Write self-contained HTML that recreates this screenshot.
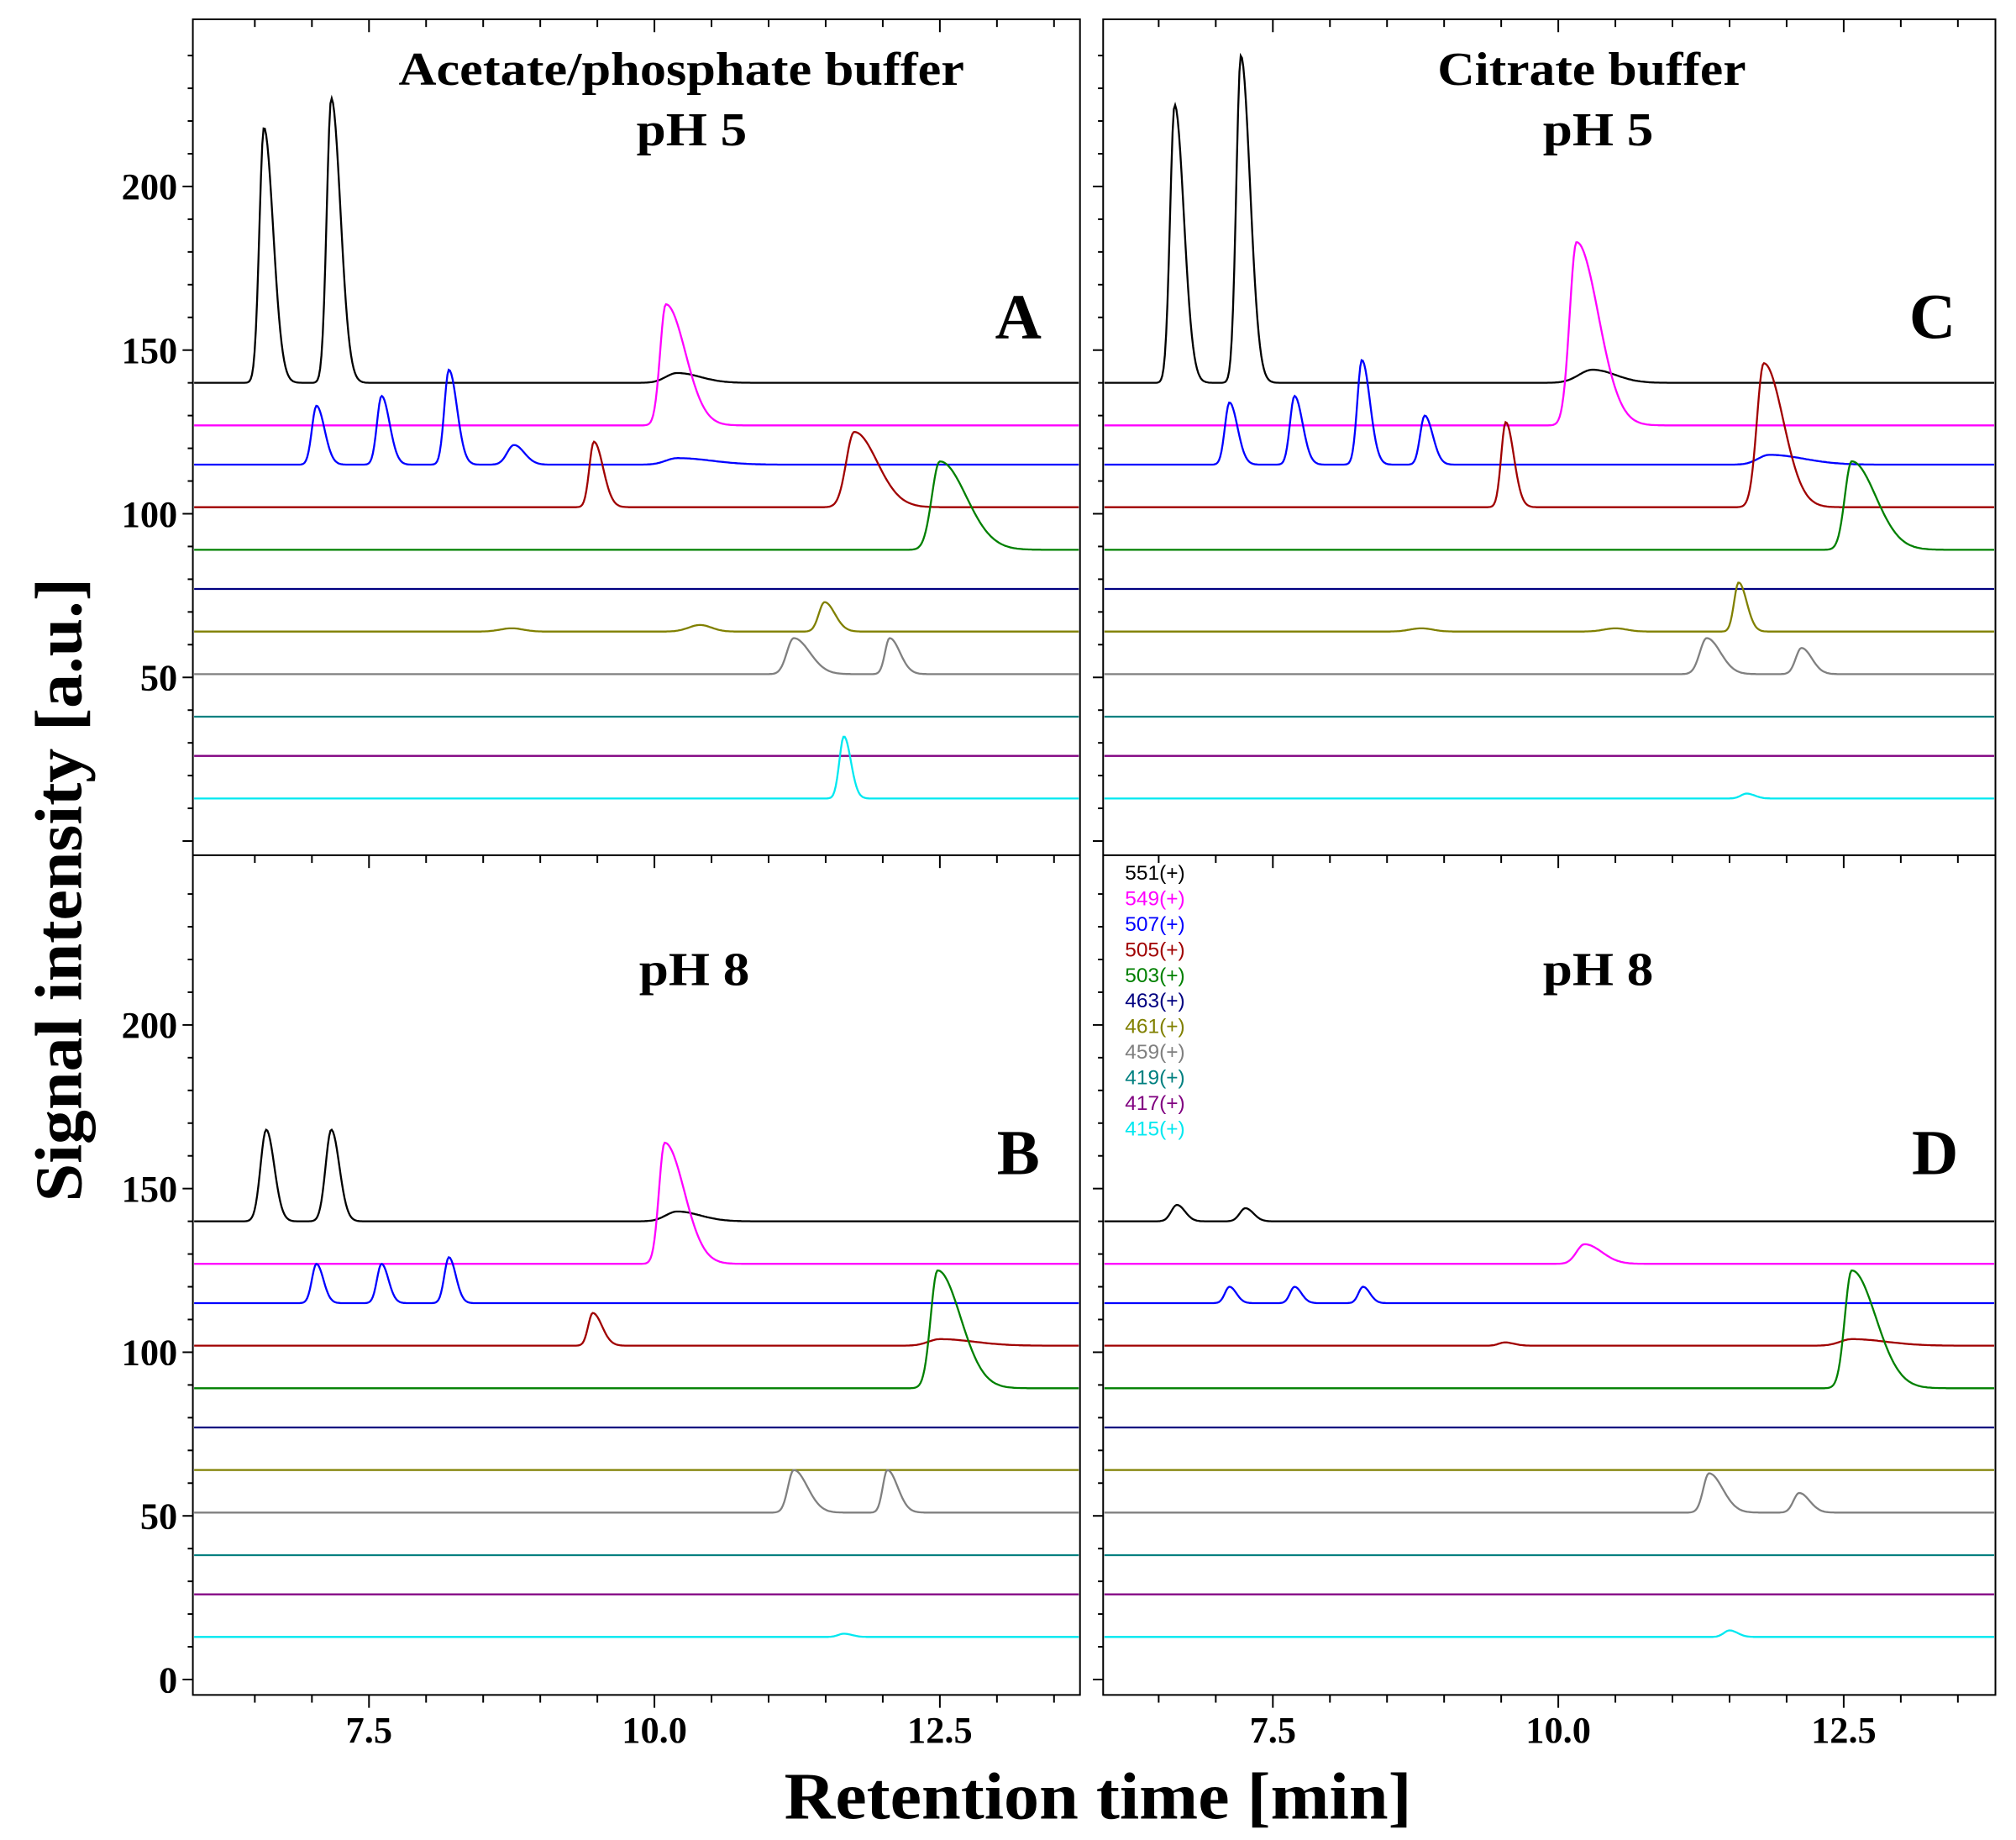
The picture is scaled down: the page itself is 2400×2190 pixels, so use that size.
<!DOCTYPE html>
<html><head><meta charset="utf-8"><style>
html,body{margin:0;padding:0;background:#fff}
svg{display:block}
</style></head><body>
<svg id="s" xmlns="http://www.w3.org/2000/svg" width="2400" height="2190" viewBox="0 0 1568 1430.8" preserveAspectRatio="none">
<rect x="0" y="0" width="1568" height="1431" fill="#fff"/>
<g id="traces"></g>
<g id="axes" stroke="#000" fill="none" stroke-width="1.3"></g>
<g font-family="Liberation Serif, serif" font-weight="bold" fill="#000">
<text x="530" y="66" font-size="37" text-anchor="middle" textLength="440" lengthAdjust="spacingAndGlyphs">Acetate/phosphate buffer</text>
<text x="538" y="113" font-size="37" text-anchor="middle" textLength="86" lengthAdjust="spacingAndGlyphs">pH 5</text>
<text x="1238" y="66" font-size="37" text-anchor="middle" textLength="240" lengthAdjust="spacingAndGlyphs">Citrate buffer</text>
<text x="1243" y="113" font-size="37" text-anchor="middle" textLength="86" lengthAdjust="spacingAndGlyphs">pH 5</text>
<text x="540" y="766" font-size="37" text-anchor="middle" textLength="86" lengthAdjust="spacingAndGlyphs">pH 8</text>
<text x="1243" y="766" font-size="37" text-anchor="middle" textLength="86" lengthAdjust="spacingAndGlyphs">pH 8</text>
<text x="792" y="263" font-size="50" text-anchor="middle">A</text>
<text x="1503" y="263" font-size="50" text-anchor="middle">C</text>
<text x="792" y="913" font-size="50" text-anchor="middle">B</text>
<text x="1505" y="913" font-size="50" text-anchor="middle">D</text>
<text x="854" y="1414" font-size="52" text-anchor="middle" textLength="488" lengthAdjust="spacingAndGlyphs">Retention time  [min]</text>
<text transform="translate(63,692) rotate(-90)" font-size="52" text-anchor="middle" textLength="485" lengthAdjust="spacingAndGlyphs">Signal intensity [a.u.]</text>
<g id="labels" font-size="29"></g>
</g>
<g font-family="Liberation Sans, sans-serif" font-size="16" id="legend"></g>
</svg>
<script>
var NS="http://www.w3.org/2000/svg";
function el(p,t,a,txt){var e=document.createElementNS(NS,t);for(var k in a)e.setAttribute(k,a[k]);if(txt!=null)e.textContent=txt;p.appendChild(e);return e;}
var cols=["#000000","#ff00ff","#0000ff","#a00000","#008000","#000080","#808000","#808080","#008080","#800080","#00e8f0"];
var names=["551(+)","549(+)","507(+)","505(+)","503(+)","463(+)","461(+)","459(+)","419(+)","417(+)","415(+)"];
var bases=[140,127,115,102,89,77,64,51,38,26,13];
var panels=[
 {x:150,off:0,y0:654,p:[
  [[6.58,78,.04,.08],[7.17,87,.04,.08],[10.2,3,.1,.2]],
  [[10.10,37,.05,.17]],
  [[7.04,18,.04,.07],[7.61,21,.04,.07],[8.20,29,.04,.07],[8.77,6,.06,.09],[10.2,2,.1,.3]],
  [[9.47,20,.04,.08],[11.75,23,.07,.2]],
  [[12.50,27,.07,.23]],
  [],
  [[11.49,9,.05,.09],[10.4,2,.1,.1],[8.75,1,.1,.1]],
  [[11.22,11,.06,.14],[12.06,11,.04,.09]],
  [],[],
  [[11.66,19,.04,.06]]]},
 {x:150,off:0,y0:1306,p:[
  [[6.60,28,.05,.07],[7.17,28,.05,.07],[10.2,3,.1,.2]],
  [[10.09,37,.05,.17]],
  [[7.04,12,.04,.06],[7.61,12,.04,.06],[8.20,14,.04,.06]],
  [[9.46,10,.04,.08],[12.5,2,.1,.3]],
  [[12.48,36,.06,.2]],
  [],[],
  [[11.22,13,.05,.12],[12.04,13,.04,.09]],
  [],[],
  [[11.66,1,.05,.07]]]},
 {x:858,off:703,y0:654,p:[
  [[6.64,85,.04,.08],[7.22,100,.04,.08],[10.3,4,.12,.2]],
  [[10.16,56,.06,.19]],
  [[7.12,19,.04,.07],[7.69,21,.04,.07],[8.28,32,.04,.07],[8.83,15,.04,.07],[11.85,3,.1,.3]],
  [[9.54,26,.04,.07],[11.80,44,.06,.17]],
  [[12.57,27,.06,.21]],
  [],
  [[11.58,15,.04,.07],[10.5,1,.1,.1],[8.8,1,.1,.1]],
  [[11.30,11,.06,.12],[12.13,8,.05,.09]],
  [],[],
  [[11.65,1.5,.05,.07]]]},
 {x:858,off:703,y0:1306,p:[
  [[6.66,5,.05,.07],[7.26,4,.05,.07]],
  [[10.23,6,.07,.15]],
  [[7.12,5,.04,.06],[7.69,5,.04,.06],[8.29,5,.04,.06]],
  [[9.53,1,.05,.08],[12.57,2,.1,.3]],
  [[12.57,36,.06,.21]],
  [],[],
  [[11.32,12,.05,.12],[12.11,6,.05,.09]],
  [],[],
  [[11.5,2,.05,.07]]]}
];
var tr=document.getElementById("traces");
var K=2.545;
panels.forEach(function(P){
 var xl=P.x, xr=P.x+690+(P.off?4:0);
 for(var i=0;i<11;i++){
  var d="";
  for(var px=xl+1;px<=xr-1;px+=1){
   var t=(px-P.off-287)/88.8+7.5, v=bases[i];
   P.p[i].forEach(function(k){var dt=t-k[0];var s=dt<0?k[2]:k[3];v+=k[1]*Math.exp(-dt*dt/(2*s*s));});
   var y=P.y0-v*K;
   d+=(d?"L":"M")+px+","+y.toFixed(1);
  }
  el(tr,"path",{d:d,stroke:cols[i],fill:"none","stroke-width":"1.5"});
 }
});
var ax=document.getElementById("axes"),lab=document.getElementById("labels");
el(ax,"rect",{x:150,y:15,width:690,height:1303});
el(ax,"rect",{x:858,y:15,width:694,height:1303});
el(ax,"line",{x1:150,y1:665,x2:840,y2:665});
el(ax,"line",{x1:858,y1:665,x2:1552,y2:665});
[[150,0],[858,703]].forEach(function(q){
 for(var t=6.5;t<=13.91;t+=0.5){
  var x=287+(t-7.5)*88.8+q[1];
  var maj=Math.abs((t-7.5)%2.5)<1e-6;
  el(ax,"line",{x1:x,y1:1318,x2:x,y2:maj?1328:1324});
  el(ax,"line",{x1:x,y1:665,x2:x,y2:maj?675:671});
  el(ax,"line",{x1:x,y1:15,x2:x,y2:maj?25:21});
 }
 [654,1306].forEach(function(y0){
  for(var v=0;v<=240;v+=10){
   var y=y0-v*K; if(y<(y0==654?15:665))continue;
   var maj=v%50==0;
   el(ax,"line",{x1:q[0]-(maj?8:4),y1:y,x2:q[0],y2:y});
  }
 });
});
[7.5,10,12.5].forEach(function(t){
 [0,703].forEach(function(o){el(lab,"text",{x:287+(t-7.5)*88.8+o,y:1355,"text-anchor":"middle"},t.toFixed(1));});
});
[[654,[50,100,150,200]],[1306,[0,50,100,150,200]]].forEach(function(g){
 g[1].forEach(function(v){el(lab,"text",{x:138,y:g[0]-v*K+10,"text-anchor":"end"},String(v));});
});
var lg=document.getElementById("legend");
names.forEach(function(n,i){el(lg,"text",{x:875,y:684+i*19.9,fill:cols[i]},n);});
</script>
</body></html>
